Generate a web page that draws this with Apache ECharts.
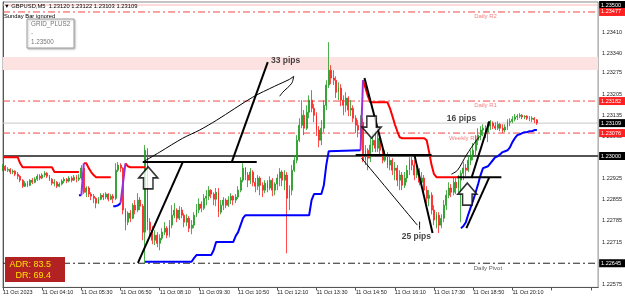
<!DOCTYPE html>
<html><head><meta charset="utf-8">
<script src="https://cdn.jsdelivr.net/npm/echarts@6/dist/echarts.min.js"></script>
<style>html,body{margin:0;padding:0;background:#fff}#c{width:625px;height:299px}</style>
</head><body><div id="c"></div>
<script>
// ---- axis ----
const firstBarMinutes = 170; // 02:50
const barSlots = 244;
const xTickLabels = ['11 Oct 2023','11 Oct 04:10','11 Oct 05:30','11 Oct 06:50','11 Oct 08:10','11 Oct 09:30','11 Oct 10:50','11 Oct 12:10','11 Oct 13:30','11 Oct 14:50','11 Oct 16:10','11 Oct 17:30','11 Oct 18:50','11 Oct 20:10'];
const yTickLabels = ['1.23410','1.23340','1.23275','1.23205','1.23135','1.23065','1.22925','1.22855','1.22785','1.22715','1.22575'];

// ---- candles (price in points, 1e-5) ----
const opens = [122953,122966,122953,122956,122947,122950,122940,122933,122920,122900,122910,122903,122920,122913,122923,122933,122927,122937,122943,122933,122923,122910,122913,122900,122907,122917,122923,122917,122927,122920,122930,122923,122927,122960,122880,122894,122874,122867,122860,122844,122857,122870,122864,122874,122857,122867,122860,122953,122970,122960,122821,122781,122811,122794,122837,122821,122854,122834,122748,123019,122781,122754,122721,122738,122711,122728,122748,122761,122738,122771,122804,122821,122794,122821,122804,122781,122794,122761,122771,122804,122821,122841,122827,122860,122867,122887,122874,122857,122880,122814,122837,122854,122837,122854,122867,122854,122864,122887,122920,122960,122937,122920,122947,122913,122900,122927,122903,122887,122910,122894,122920,122887,122907,122927,122947,122920,122937,122860,122887,122953,122986,123052,123102,123135,123092,123145,123185,123158,123135,123086,123052,123092,123168,123235,123284,123258,123251,123211,123225,123185,123168,123192,123152,123158,123125,123102,123086,123112,122986,123019,122993,123036,123052,123026,123059,123019,122986,123003,122970,122986,122953,122960,122920,122937,122903,122927,122953,122986,122970,122937,122953,122913,122927,122887,122860,122870,122821,122788,122804,122771,122794,122837,122870,122894,122880,122913,122894,122920,122943,122960,122953,122986,123003,123019,123052,123069,123086,123092,123079,123099,123109,123099,123092,123105,123092,123086,123096,123112,123115,123122,123129,123132,123135,123129,123132,123125,123122,123125,123120];
const closes = [122966,122953,122956,122947,122950,122940,122933,122920,122900,122910,122903,122920,122913,122923,122933,122927,122937,122943,122933,122923,122910,122913,122900,122907,122917,122923,122917,122927,122920,122930,122923,122927,122960,122880,122894,122874,122867,122860,122844,122857,122870,122864,122874,122857,122867,122860,122953,122970,122960,122821,122781,122811,122794,122837,122821,122854,122834,122748,123019,122781,122754,122721,122738,122711,122728,122748,122761,122738,122771,122804,122821,122794,122821,122804,122781,122794,122761,122771,122804,122821,122841,122827,122860,122867,122887,122874,122857,122880,122814,122837,122854,122837,122854,122867,122854,122864,122887,122920,122960,122937,122920,122947,122913,122900,122927,122903,122887,122910,122894,122920,122887,122907,122927,122947,122920,122937,122860,122887,122953,122986,123052,123102,123135,123092,123145,123185,123158,123135,123086,123052,123092,123168,123235,123284,123258,123251,123211,123225,123185,123168,123192,123152,123158,123125,123102,123086,123112,122986,123019,122993,123036,123052,123026,123059,123019,122986,123003,122970,122986,122953,122960,122920,122937,122903,122927,122953,122986,122970,122937,122953,122913,122927,122887,122860,122870,122821,122788,122804,122771,122794,122837,122870,122894,122880,122913,122894,122920,122943,122960,122953,122986,123003,123019,123052,123069,123086,123092,123079,123099,123109,123099,123092,123105,123092,123086,123096,123112,123115,123122,123129,123132,123135,123129,123132,123125,123122,123125,123120,123109];
const highs = [122973,122970,122963,122960,122956,122953,122947,122937,122923,122917,122917,122923,122927,122930,122940,122940,122943,122950,122947,122937,122927,122923,122917,122913,122923,122930,122927,122933,122933,122937,122937,122940,122970,122963,122900,122900,122880,122874,122864,122864,122877,122877,122880,122877,122874,122874,122976,122980,122976,122963,122827,122817,122821,122844,122854,122877,122864,122841,123036,123026,122794,122768,122754,122748,122741,122761,122781,122768,122788,122837,122844,122827,122834,122831,122811,122807,122801,122788,122814,122841,122860,122850,122874,122887,122900,122890,122880,122894,122894,122854,122864,122860,122867,122877,122870,122874,122900,122930,122976,122963,122947,122960,122953,122927,122937,122933,122913,122920,122920,122933,122927,122913,122940,122960,122953,122953,122947,122903,122970,123003,123069,123125,123185,123152,123168,123201,123218,123172,123145,123099,123119,123185,123251,123377,123301,123284,123264,123244,123238,123201,123211,123198,123185,123168,123135,123119,123135,123125,123036,123026,123059,123079,123086,123076,123069,123026,123019,123013,122999,122993,122980,122970,122953,122947,122947,122970,122996,122999,122986,122970,122960,122947,122937,122900,122887,122880,122837,122814,122814,122807,122854,122887,122913,122907,122927,122930,122937,122953,122980,122973,122999,123019,123043,123069,123092,123099,123105,123102,123112,123119,123115,123112,123115,123109,123105,123105,123122,123125,123132,123139,123139,123142,123139,123135,123135,123132,123132,123129,123122];
const lows = [122950,122950,122947,122940,122940,122933,122923,122913,122894,122897,122897,122900,122907,122910,122917,122920,122923,122930,122927,122917,122903,122900,122894,122897,122903,122910,122910,122913,122913,122917,122913,122917,122920,122874,122864,122864,122854,122844,122827,122841,122854,122854,122857,122850,122854,122844,122854,122947,122947,122807,122754,122771,122781,122791,122807,122814,122821,122721,122645,122754,122735,122708,122705,122698,122688,122721,122738,122728,122731,122761,122794,122781,122788,122794,122764,122768,122748,122741,122761,122798,122811,122814,122821,122837,122854,122860,122837,122834,122798,122807,122821,122827,122831,122841,122837,122844,122857,122880,122913,122920,122897,122907,122900,122880,122887,122870,122864,122877,122880,122887,122867,122870,122887,122900,122900,122887,122678,122821,122870,122947,122976,123046,123092,123069,123086,123125,123145,123112,123066,123029,123036,123079,123152,123225,123238,123235,123192,123185,123165,123135,123145,123132,123132,123112,123076,123062,123059,122980,122970,122953,122980,123013,123013,123013,122999,122976,122980,122960,122953,122937,122920,122900,122887,122887,122894,122913,122937,122953,122920,122927,122903,122894,122877,122844,122834,122807,122771,122761,122745,122761,122781,122821,122860,122864,122870,122874,122880,122781,122920,122933,122947,122970,122986,123003,123036,123052,123066,123059,123046,123086,123089,123086,123086,123082,123076,123079,123086,123099,123109,123115,123119,123125,123122,123122,123119,123115,123112,123109,123103];

// ---- trailing-stop indicator ([bar, points], null = gap) ----
const upperStop = [[0,122996],[6,122996],[7,122976],[8,122963],[20,122963],[21,122947],[31,122947],[32,null],[33,122976],[34,122976],[35,122960],[36,122947],[37,122937],[38,122930],[44,122930],[45,null],[50,122976],[51,122966],[52,122963],[58,122963],[59,null],[147,123251],[148,123225],[149,123198],[150,123178],[157,123178],[158,123158],[159,123132],[160,123105],[161,123082],[162,123062],[163,123059],[172,123059],[173,123052],[174,123013],[175,122970],[176,122940],[177,122930],[186,122930]];
const lowerStop = [[31,122870],[32,122870],[33,null],[45,122834],[46,122834],[47,122837],[48,122844],[49,null],[58,122650],[77,122650],[78,122662],[79,122672],[85,122672],[86,122688],[87,122715],[94,122715],[95,122735],[96,122748],[97,122771],[98,122794],[99,122804],[125,122804],[126,122854],[127,122874],[130,122874],[131,122903],[132,122970],[133,123016],[146,123019],[147,null],[187,122761],[188,122768],[189,122781],[190,122807],[191,122831],[192,122854],[193,122880],[194,122907],[195,122937],[196,122960],[197,122963],[198,122966],[199,122976],[200,122986],[201,122996],[202,122999],[203,123006],[204,123013],[205,123016],[206,123019],[207,123029],[208,123046],[209,123059],[210,123069],[211,123072],[212,123076],[213,123079],[214,123079],[215,123082],[216,123082],[217,123086],[218,123086]];
const switchStop = [[32,122870],[33,122976],[34,null],[48,122844],[49,122910],[50,122976],[51,null],[146,123019],[147,123251]];

// ---- levels ----
const gridLevel = 1.235, dailyR2 = 1.23477, dailyR1 = 1.23182, bidPrice = 1.23109, weeklyR1 = 1.23076, roundLevel = 1.23, dailyPivot = 1.22645;
const zoneLow = 1.23285, zoneHigh = 1.23328;
const pivotNames = ['Daily R2','Daily R1','Weekly R1','Daily Pivot'];
const pivotNamePos = [[197,123463],[197,123168],[188,123059],[198,122629]];

// ---- hand drawings ([bar, points]) ----
const thickDrawings = [
 [[57.1,122980],[103.6,122980]],
 [[55.1,122646],[73.4,122980]],
 [[93.4,122980],[108.1,123311]],
 [[144.0,123003],[175.0,123003]],
 [[147.6,123258],[155.8,123003]],
 [[168.0,123003],[175.4,122745]],
 [[185.6,122930],[203.5,122930]],
 [[189.2,122761],[198.6,122930]],
 [[191.3,122927],[198.6,123115]]
];
const thinDrawings = [
 [[57.1,122980],[64.0,123013],[73.4,123059],[80.3,123086],[87.3,123119],[102.0,123195],[110.9,123231],[117.0,123254],[118.7,123264],[117.9,123241],[114.2,123211],[113.0,123198]],
 [[146.4,122993],[169.2,122771]],
 [[170.1,122783],[170.1,122756]],
 [[183.1,122940],[185.6,122953],[189.2,123003],[193.3,123052],[194.9,123066]]
];
const upArrows = [[59.3,122928],[189.6,122874]];
const downArrows = [[150.5,123096]];
const noteTexts = ['33 pips','25 pips','16 pips'];
const notePos = [[115.4,123315],[168.8,122732],[187.2,123123]];
const adrText = 'ADR: 83.5', drText = 'DR: 69.4';
const headerText = '\u25BC GBPUSD,M5  1.23120 1.23122 1.23103 1.23109';

// ---- build ----
const P = v => v == null ? null : v / 1e5;
const pair = a => a.map(d => [d[0], P(d[1])]);
const categories = [];
for (let i = 0; i < barSlots; i++) {
  const m = firstBarMinutes + 5 * i;
  const hh = String(Math.floor(m / 60) % 24).padStart(2, '0');
  const mm = String(m % 60).padStart(2, '0');
  categories.push('11 Oct ' + hh + ':' + mm);
}
const candles = opens.map((o, i) => [P(o), P(closes[i]), P(lows[i]), P(highs[i])]);
const FONT = 'Liberation Sans';
const dashDot = [7, 3, 2, 3];
const arrowPath = 'path://M10,0 L20,11 L15,11 L15,22 L5,22 L5,11 L0,11 Z';

// level line as a two-point line series with a price box at its right end
const level = (v, color, type, width, boxColor, z) => ({
  type: 'line', xAxisIndex: 1, data: [[0, v], [barSlots - 1, v]], symbol: 'none', silent: true, z: z || 2,
  lineStyle: {color, type, width},
  endLabel: {show: true, distance: 1, formatter: p => p.value[1].toFixed(5), color: '#fff', backgroundColor: boxColor,
             fontSize: 5.5, fontFamily: FONT, padding: [1, 4, 1, 2]}
});

const series = [
  {type: 'line', xAxisIndex: 1, data: [], z: 1, silent: true,
   markArea: {silent: true, itemStyle: {color: '#fde2e2'}, data: [[{yAxis: zoneLow}, {yAxis: zoneHigh}]]}},
  level(gridLevel, '#ffb4b4', 'solid', 1, '#000'),
  level(dailyR2, '#f04848', dashDot, 1, '#ff2020'),
  level(dailyR1, '#f04848', dashDot, 1, '#ff2020'),
  level(bidPrice, '#c8c8c8', 'solid', 1, '#000'),
  level(weeklyR1, '#f04848', dashDot, 1, '#ff2020'),
  level(roundLevel, '#555', 'solid', 2, '#000'),
  level(dailyPivot, '#222', dashDot, 1, '#000'),
  {type: 'candlestick', data: candles, barWidth: 1.4, z: 3,
   itemStyle: {color: '#1f9a1f', color0: '#ff1f1f', borderColor: '#1f9a1f', borderColor0: '#ff1f1f', borderWidth: 0.8}},
  {type: 'line', xAxisIndex: 1, data: pair(upperStop), symbol: 'none', connectNulls: false, z: 4, lineStyle: {color: '#ff0000', width: 2}},
  {type: 'line', xAxisIndex: 1, data: pair(lowerStop), symbol: 'none', connectNulls: false, z: 4, lineStyle: {color: '#0000ff', width: 2}},
  {type: 'line', xAxisIndex: 1, data: pair(switchStop), symbol: 'none', connectNulls: false, z: 4, lineStyle: {color: '#9b30d9', width: 2}}
];
thickDrawings.forEach(d => series.push({type: 'line', xAxisIndex: 1, data: pair(d), symbol: 'none', z: 6, silent: true, lineStyle: {color: '#000', width: 2}}));
thinDrawings.forEach(d => series.push({type: 'line', xAxisIndex: 1, data: pair(d), symbol: 'none', smooth: 0.3, z: 6, silent: true, lineStyle: {color: '#000', width: 1}}));
series.push({type: 'scatter', xAxisIndex: 1, z: 7, silent: true, symbol: arrowPath, symbolSize: [19, 22],
  itemStyle: {color: '#fff', borderColor: '#000', borderWidth: 1.6},
  data: upArrows.map(a => ({value: [a[0], P(a[1])]})).concat(downArrows.map(a => ({value: [a[0], P(a[1])], symbolRotate: 180})))});
series.push({type: 'scatter', xAxisIndex: 1, z: 8, silent: true, symbolSize: 1, itemStyle: {color: 'rgba(0,0,0,0)'},
  label: {show: true, position: 'inside', formatter: '{b}', color: '#111', fontSize: 8.5, fontWeight: 'bold', fontFamily: FONT},
  data: noteTexts.map((t, i) => ({name: t, value: [notePos[i][0], P(notePos[i][1])]}))});
series.push({type: 'scatter', xAxisIndex: 1, z: 5, silent: true, symbolSize: 1, itemStyle: {color: 'rgba(0,0,0,0)'},
  label: {show: true, position: 'inside', formatter: '{b}', fontSize: 6, fontFamily: FONT},
  data: pivotNames.map((t, i) => ({name: t, value: [pivotNamePos[i][0], P(pivotNamePos[i][1])], label: {color: i === 3 ? '#333' : '#f06060'}}))});

const txt = (x, y, text, size, fill, align) => ({type: 'text', x, y, z: 100, silent: true,
  style: {text, fontSize: size, fontFamily: FONT, fill, textAlign: align || 'left', align: align || 'left', textVerticalAlign: 'middle', verticalAlign: 'middle'}});

const option = {
  animation: false,
  grid: {left: 3, right: 26, top: 2, height: 285.4, show: true, borderColor: '#888', borderWidth: 1},
  xAxis: [
    {type: 'category', data: categories, boundaryGap: false,
     axisLine: {lineStyle: {color: '#555'}},
     axisTick: {show: true, interval: 15, length: 3, lineStyle: {color: '#555'}},
     axisLabel: {interval: 15, formatter: (v, i) => xTickLabels[i / 16] || '', align: 'left', margin: 2, fontSize: 5.5, color: '#222', fontFamily: FONT},
     splitLine: {show: false}},
    {type: 'value', min: 0, max: barSlots - 1, show: false}
  ],
  yAxis: {type: 'value', position: 'right', min: 1.22565, max: 1.2351, interval: 0.00005,
    axisLine: {show: true, lineStyle: {color: '#555'}}, axisTick: {show: false}, splitLine: {show: false},
    axisLabel: {margin: 4, fontSize: 5.5, color: '#222', fontFamily: FONT,
      formatter: v => { const s = v.toFixed(5); return yTickLabels.indexOf(s) >= 0 ? s : ''; }}},
  series,
  graphic: [
    txt(4, 6, headerText, 5.8, '#000'),
    txt(4, 16, 'Sunday Bar ignored', 5.8, '#000'),
    {type: 'rect', z: 100, silent: true, shape: {x: 27, y: 19, width: 47, height: 29},
     style: {fill: '#fff', stroke: '#a0a0a0', lineWidth: 1, shadowBlur: 2, shadowOffsetX: 1, shadowOffsetY: 1, shadowColor: 'rgba(0,0,0,0.25)'}},
    txt(31, 24, 'GRID_PLUS2', 6.3, '#777'),
    txt(31, 33, '-', 6.3, '#777'),
    txt(31, 42, '1.23500', 6.3, '#777'),
    {type: 'rect', z: 100, silent: true, shape: {x: 5, y: 257, width: 60, height: 25}, style: {fill: '#b32222'}},
    txt(51, 264.5, adrText, 9, '#ffe000', 'right'),
    txt(51, 275.5, drText, 9, '#ffe000', 'right')
  ]
};
const chart = echarts.init(document.getElementById('c'), null, {renderer: 'canvas'});
chart.setOption(option);
</script></body></html>
